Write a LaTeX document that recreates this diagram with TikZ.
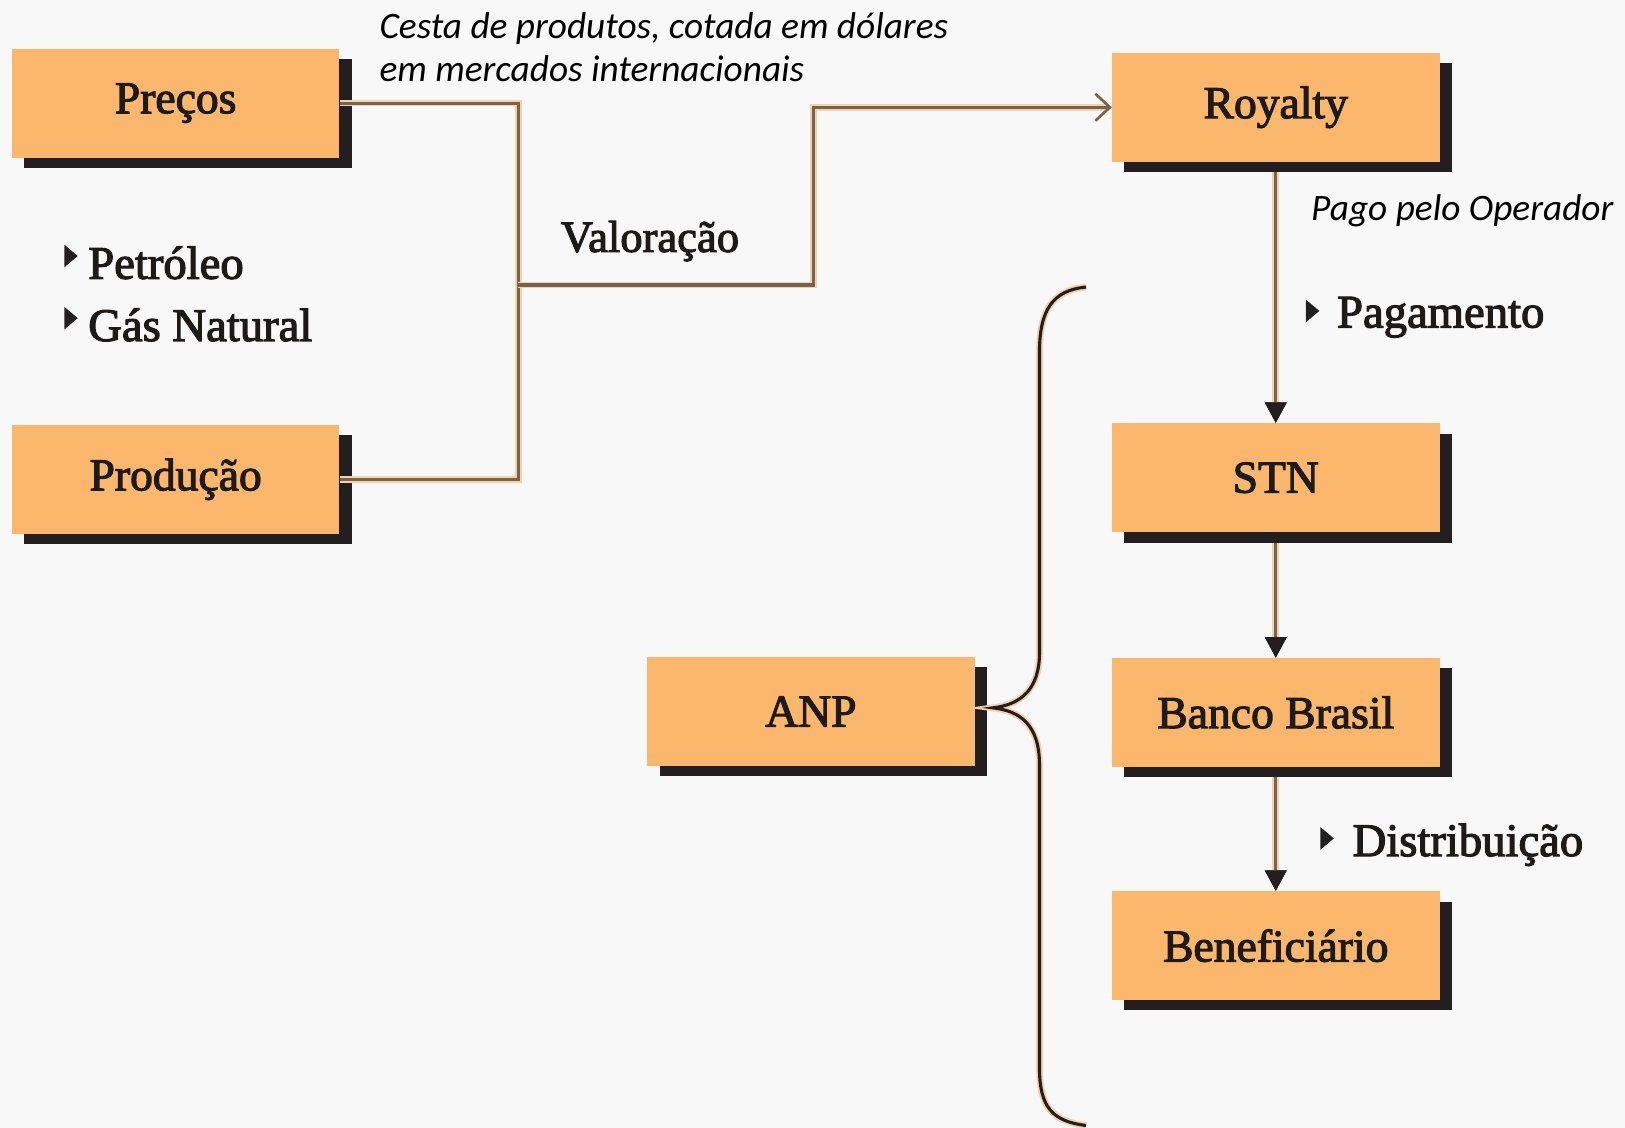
\documentclass[tikz,border=0pt]{standalone}
\usepackage{fontspec}
\setmainfont{Liberation Serif}
\newfontfamily\lbl{Liberation Serif}[FakeBold=2.5]
\newfontfamily\calib{Carlito}
\usetikzlibrary{arrows.meta,shadows}
\definecolor{boxfill}{HTML}{FBB86C}
\definecolor{shadowc}{HTML}{231F20}
\definecolor{linec}{HTML}{766350}
\definecolor{haloc}{HTML}{F5D2AA}
\definecolor{bgc}{HTML}{F8F8F8}
\definecolor{txtc}{HTML}{1E1A18}
\begin{document}
\begin{tikzpicture}[x=1pt,y=-1pt,
  box/.style={fill=boxfill, minimum width=316pt, minimum height=105pt, inner sep=0pt,
    text=txtc, font=\lbl\fontsize{44}{50}\selectfont,
    general shadow={fill=shadowc, shadow xshift=12pt, shadow yshift=-10pt}},
  bultext/.style={anchor=base west, inner sep=0pt, text=txtc, font=\lbl\fontsize{45}{50}\selectfont},
  note/.style={anchor=base west, inner sep=0pt, text=black, align=left, font=\calib\itshape\fontsize{36}{42}\selectfont},
  conn/.style={draw=linec, line width=3pt, line join=miter, preaction={draw=haloc, line width=6.5pt}},
  darrow/.style={conn, -{Triangle[length=20pt,width=20pt,color=shadowc]}},
  bul/.style={fill=shadowc}
]
\useasboundingbox[fill=bgc] (0,0) rectangle (1568,1088);

% boxes
\node[box] (precos)   at (169.5,99.5)  {Preços};
\node[box] (producao) at (169.5,462.5) {Produção};
\node[box] (royalty)  at (1231,103.5)  {Royalty};
\node[box] (stn)      at (1231,461)    {STN};
\node[box] (banco)    at (1231,687.5)  {Banco Brasil};
\node[box] (benef)    at (1231,912.5)  {Beneficiário};
\node[box] (anp)      at (782.5,686.5) {ANP};

% left connectors
\coordinate (jn) at (500,275);
\coordinate (kn) at (785,275);
\draw[conn] (precos.east) -| (jn) |- (producao.east);
\draw[conn, -{Straight Barb[length=14pt,width=26pt,line width=2.5pt]}] (jn) -- (kn) |- (royalty.west);

% vertical arrows
\draw[darrow, shorten <=10pt] (royalty.south) -- (stn.north);
\draw[darrow, shorten <=10pt] (stn.south) -- (banco.north);
\draw[darrow, shorten <=10pt] (banco.south) -- (benef.north);

% labels
\node[note] (cesta) at (366,79) {Cesta de produtos, cotada em dólares\\em mercados internacionais};
\node[note] (pago) at (1265,213) {Pago pelo Operador};
\node[bultext, font=\lbl\fontsize{43}{50}\selectfont] (valor) at (541,243) {Valoração};

\node[bultext] (petro) at (85,269) {Petróleo};
\node[bultext] (gas) at (85,329) {Gás Natural};
\node[bultext] (pag) at (1290,316) {Pagamento};
\node[bultext] (dist) at (1305,826) {Distribuição};

\fill[bul] (62,236) -- (75,247) -- (62,258) -- cycle;
\fill[bul] (62,296) -- (75,307) -- (62,318) -- cycle;
\fill[bul] (1260,289) -- (1273,300) -- (1260,311) -- cycle;
\fill[bul] (1274,798) -- (1287,809) -- (1274,820) -- cycle;

% brace
\draw[draw=shadowc, line width=3pt, preaction={draw=haloc, line width=6.5pt}]
  (1048,277) .. controls (1015,280) and (1003,300) .. (1003,340) -- (1003,630)
  .. controls (1003,665) and (985,680) .. (958,683)
  .. controls (985,686) and (1003,700) .. (1003,738) -- (1003,1030)
  .. controls (1003,1068) and (1015,1082) .. (1048,1086);
\end{tikzpicture}
\end{document}
